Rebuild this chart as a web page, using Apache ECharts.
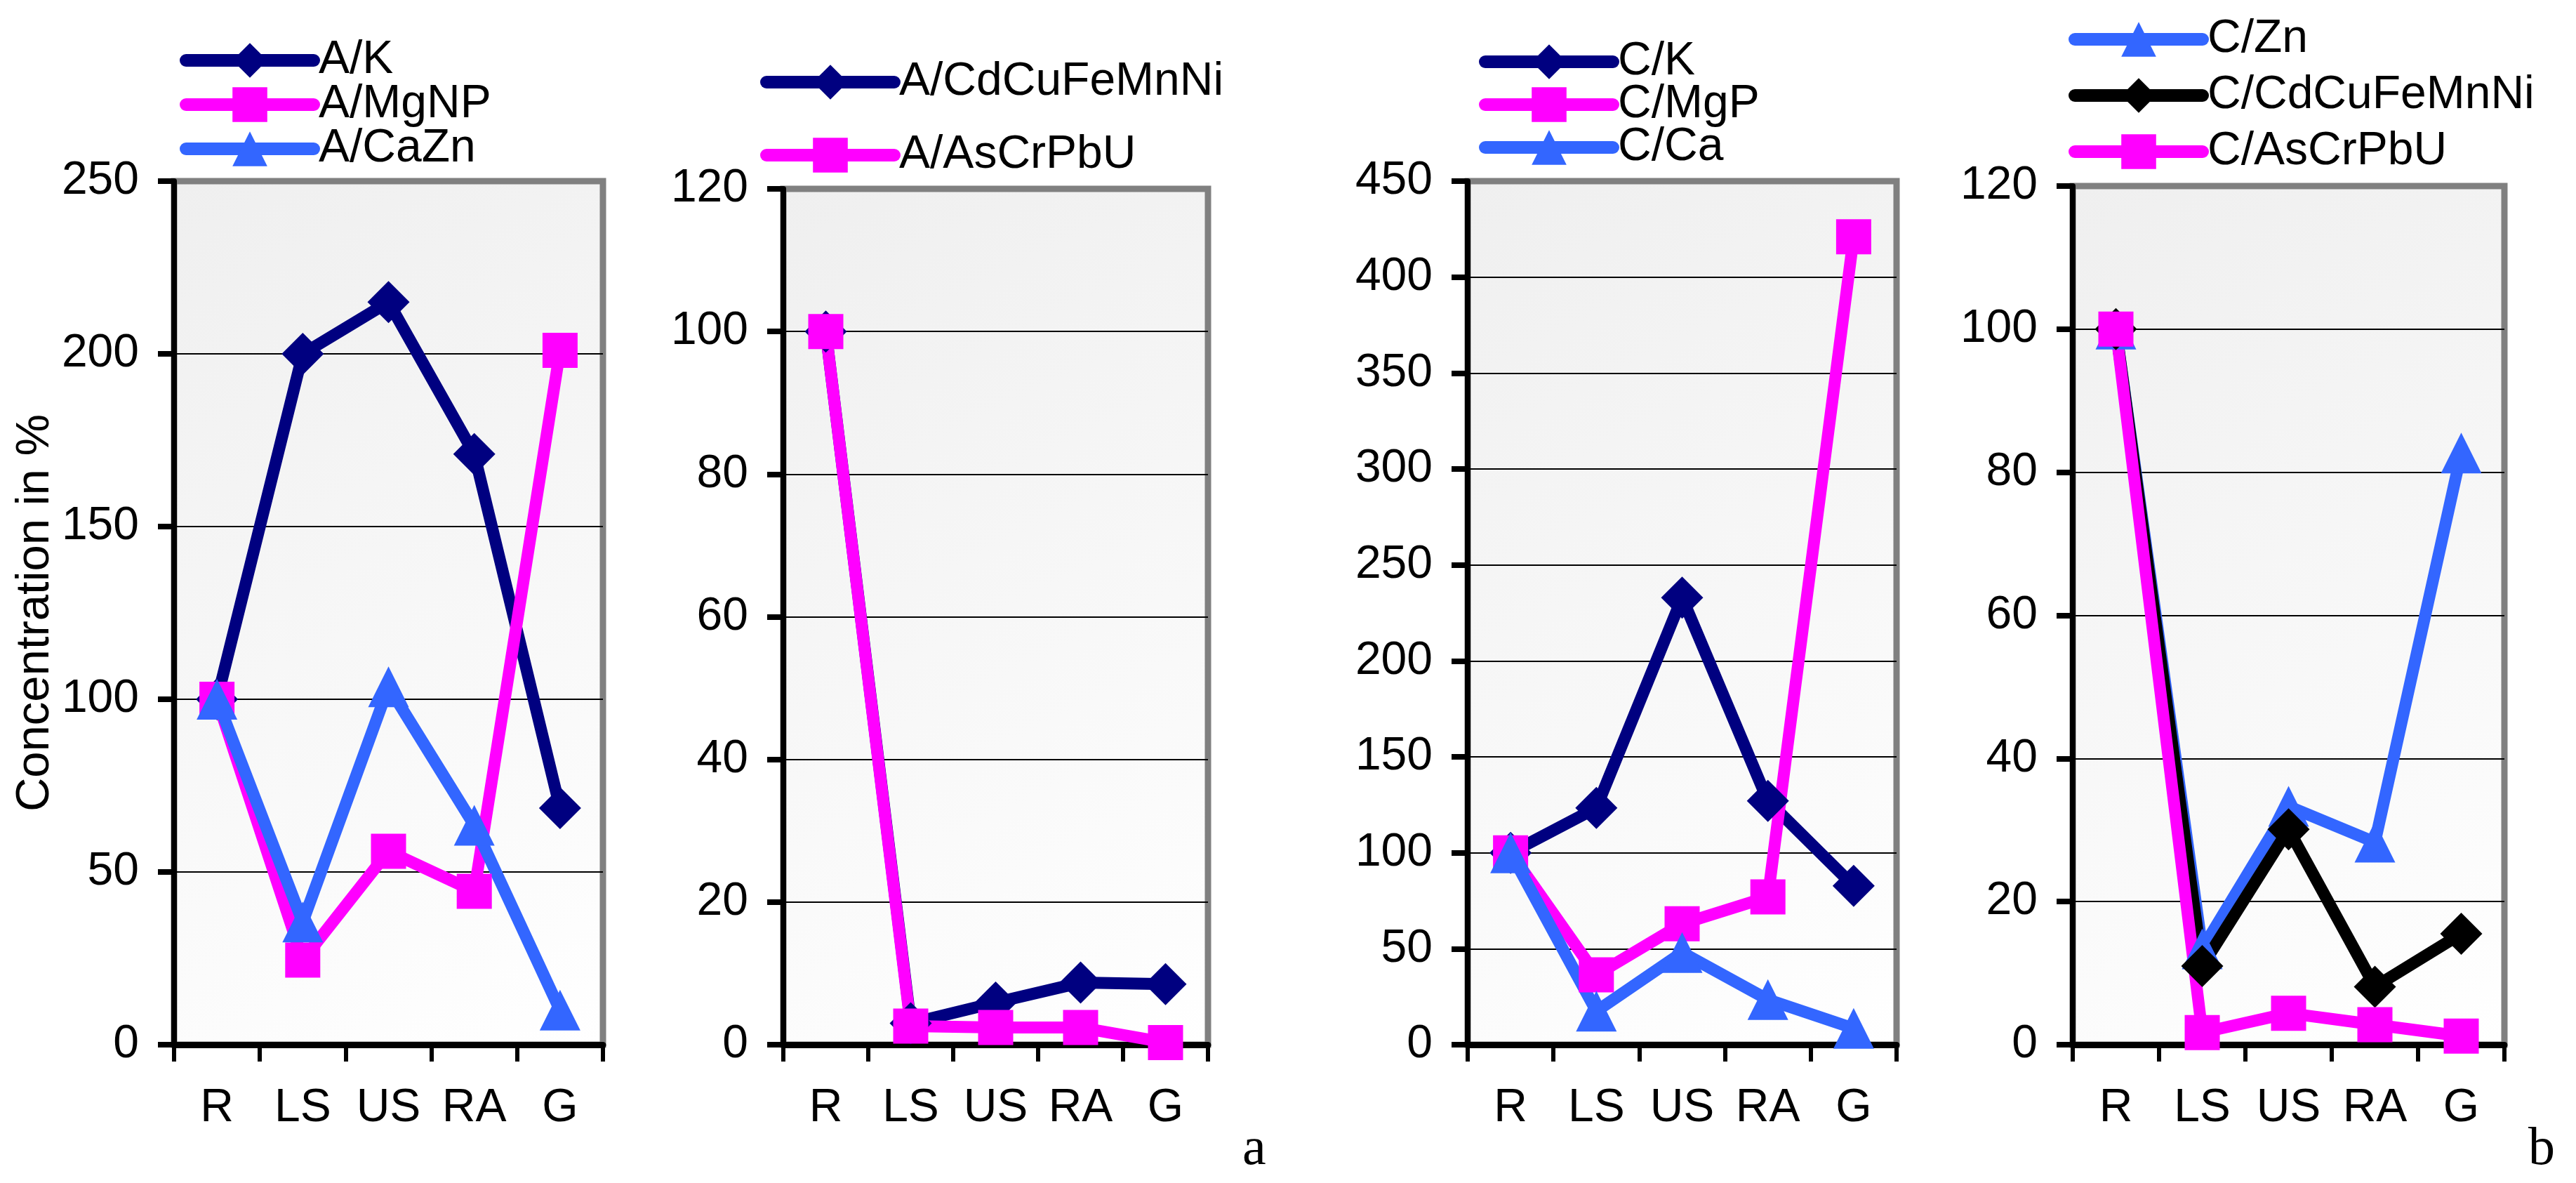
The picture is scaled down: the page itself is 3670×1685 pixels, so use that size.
<!DOCTYPE html>
<html><head><meta charset="utf-8">
<script src="https://cdn.jsdelivr.net/npm/echarts@6/dist/echarts.min.js"></script>
<style>html,body{margin:0;padding:0;background:#fff}#c{width:3670px;height:1685px}</style>
</head><body><div id="c"></div>
<script>
const categories = ['R','LS','US','RA','G'];
// panel 1
const aK        = [100, 200, 215, 171, 68.5];
const aMgNP     = [100, 24.5, 56, 44.4, 201];
const aCaZn     = [100, 35.5, 103.6, 63.5, 10];
// panel 2
const aCdCuFeMnNi = [100, 3, 5.9, 8.7, 8.5];
const aAsCrPbU    = [100, 2.6, 2.4, 2.4, 0.3];
// panel 3
const cK   = [100, 123.4, 233, 127, 82.8];
const cMgP = [100, 36.4, 63, 77, 421];
const cCa  = [100, 17.5, 48, 23.5, 8.5];
// panel 4
const cZn         = [100, 13.4, 33.3, 28.3, 82.7];
const cCdCuFeMnNi = [100, 11, 30.1, 8.1, 15.5];
const cAsCrPbU    = [100, 1.7, 4.4, 2.8, 1.2];
// axes
const yMax      = [250, 120, 450, 120];
const yInterval = [50, 20, 50, 20];
const yAxisName = 'Concentration in %';
const panelLabels = ['a', 'b'];

const NAVY = '#000080', MAG = '#FF00FF', BLUE = '#3366FF', BLACK = '#000000';
const FONT = 'Liberation Sans, Arial, sans-serif';

const grids = [
  {left: 248,  top: 258, width: 611, height: 1230},
  {left: 1116, top: 269, width: 605, height: 1219},
  {left: 2091, top: 258, width: 611, height: 1230},
  {left: 2953, top: 265, width: 615, height: 1223}
].map(g => Object.assign(g, {
  show: true,
  borderColor: '#808080',
  borderWidth: 9,
  backgroundColor: {type: 'linear', x: 0, y: 0, x2: 1, y2: 1,
    colorStops: [{offset: 0, color: '#efefef'}, {offset: 1, color: '#ffffff'}]}
}));

const xAxes = grids.map((g, i) => ({
  type: 'category', gridIndex: i, data: categories, boundaryGap: true,
  axisLine: {lineStyle: {color: '#000', width: 9}},
  axisTick: {show: true, length: 24, lineStyle: {color: '#000', width: 6}},
  axisLabel: {color: '#000', fontSize: 66, fontFamily: FONT, margin: 58, interval: 0},
  splitLine: {show: false}
}));

const yAxes = grids.map((g, i) => ({
  type: 'value', gridIndex: i, min: 0, max: yMax[i], interval: yInterval[i],
  name: i === 0 ? yAxisName : '',
  nameLocation: 'middle', nameGap: 130, nameRotate: 90,
  nameTextStyle: {color: '#000', fontSize: 67, fontFamily: FONT},
  axisLine: {show: true, lineStyle: {color: '#000', width: 8}},
  axisTick: {show: true, length: 23, lineStyle: {color: '#000', width: 8}},
  axisLabel: {color: '#000', fontSize: 66, fontFamily: FONT, margin: 50},
  splitLine: {show: true, showMaxLine: false, showMinLine: false, lineStyle: {color: '#000', width: 2}}
}));

function line(name, data, idx, color, symbol, size) {
  return {
    name, type: 'line', data, xAxisIndex: idx, yAxisIndex: idx,
    symbol, symbolSize: size, showAllSymbol: true,
    lineStyle: {color, width: 17},
    itemStyle: {color},
    z: 3, animation: false
  };
}

const series = [
  line('A/K', aK, 0, NAVY, 'diamond', 60),
  line('A/MgNP', aMgNP, 0, MAG, 'rect', 50),
  line('A/CaZn', aCaZn, 0, BLUE, 'triangle', 58),
  line('A/CdCuFeMnNi', aCdCuFeMnNi, 1, NAVY, 'diamond', 60),
  line('A/AsCrPbU', aAsCrPbU, 1, MAG, 'rect', 50),
  line('C/K', cK, 2, NAVY, 'diamond', 60),
  line('C/MgP', cMgP, 2, MAG, 'rect', 50),
  line('C/Ca', cCa, 2, BLUE, 'triangle', 58),
  line('C/Zn', cZn, 3, BLUE, 'triangle', 58),
  line('C/CdCuFeMnNi', cCdCuFeMnNi, 3, BLACK, 'diamond', 60),
  line('C/AsCrPbU', cAsCrPbU, 3, MAG, 'rect', 50)
];

function legend(names, left, top, gap) {
  return {
    data: names, orient: 'vertical', left, top, itemGap: gap,
    itemWidth: 182, itemHeight: 62, selectedMode: false,
    padding: 0,
    lineStyle: {width: 18, cap: 'round'},
    textStyle: {color: '#000', fontSize: 66, fontFamily: FONT, lineHeight: 60, padding: [0, 0, 0, 2]}
  };
}

const option = {
  backgroundColor: '#fff',
  animation: false,
  grid: grids,
  xAxis: xAxes,
  yAxis: yAxes,
  legend: [
    legend(['A/K', 'A/MgNP', 'A/CaZn'], 256, 53, -3),
    legend(['A/CdCuFeMnNi', 'A/AsCrPbU'], 1083, 84, 38),
    legend(['C/K', 'C/MgP', 'C/Ca'], 2107, 55, -5),
    legend(['C/Zn', 'C/CdCuFeMnNi', 'C/AsCrPbU'], 2947, 23, 14)
  ],
  graphic: [
    {type: 'text', left: 1770, top: 1600, style: {text: panelLabels[0], font: '76px "Liberation Serif", "Times New Roman", serif', fill: '#000'}},
    {type: 'text', left: 3602, top: 1600, style: {text: panelLabels[1], font: '76px "Liberation Serif", "Times New Roman", serif', fill: '#000'}}
  ],
  series
};

const chart = echarts.init(document.getElementById('c'), null, {renderer: 'canvas', width: 3670, height: 1685});
chart.setOption(option);
</script>
</body></html>
